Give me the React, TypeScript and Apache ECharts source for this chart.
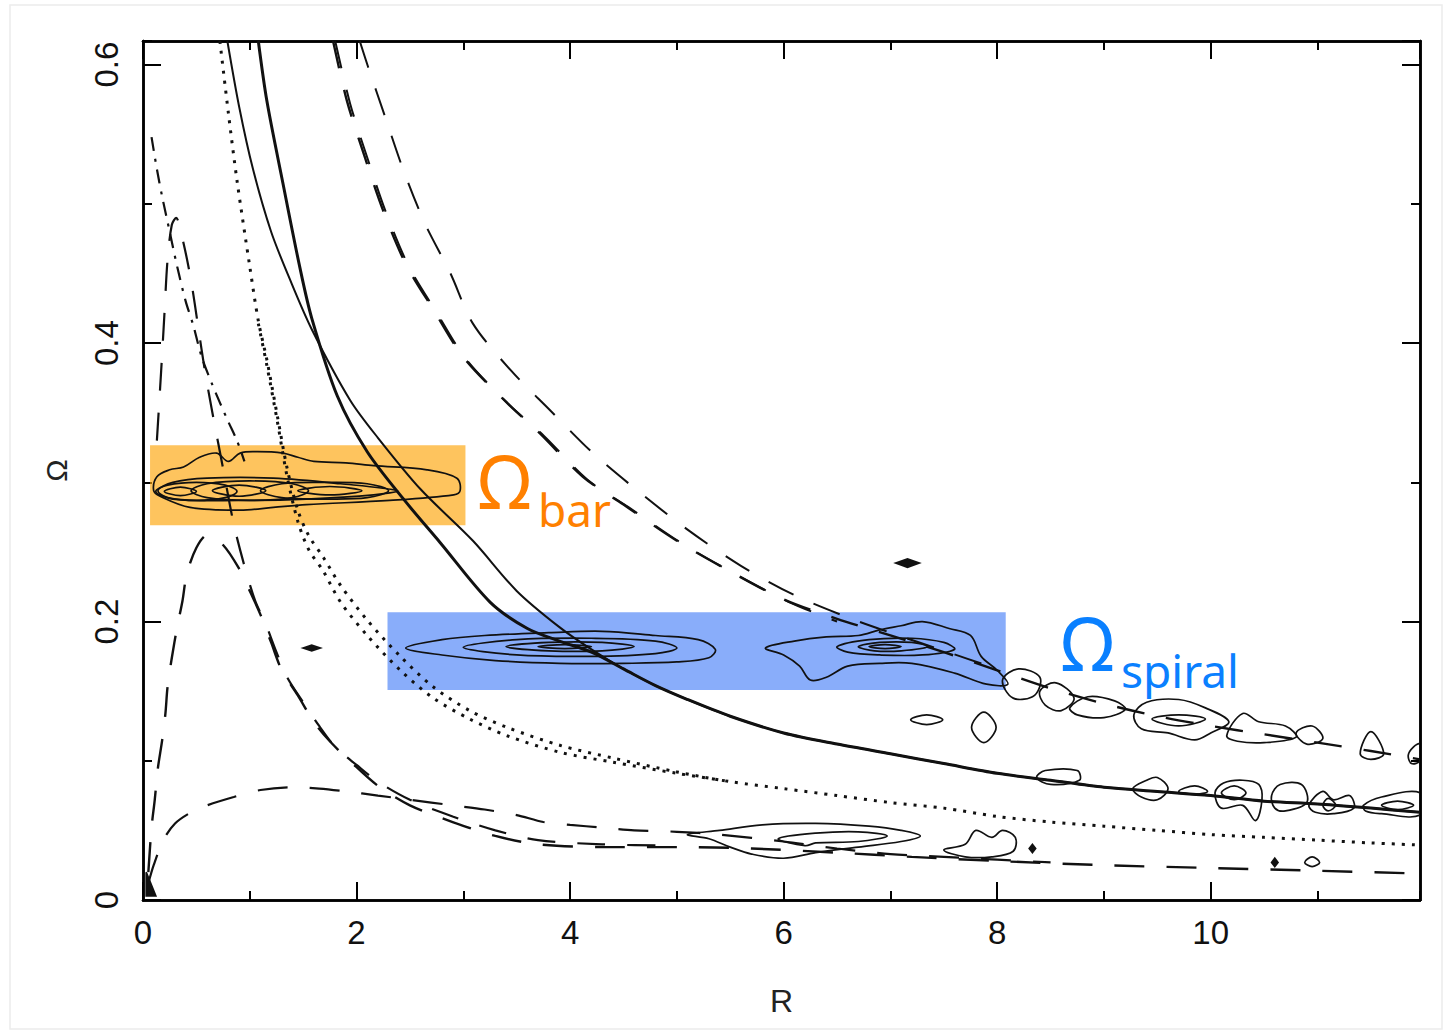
import React, { useEffect, useRef } from "react";
import * as echarts from "echarts";

// ---------- axes ----------
const xTicks = [0, 2, 4, 6, 8, 10];
const yTicks = [0, 0.2, 0.4, 0.6];
const xMax = 11.96;
const yMax = 0.617;

// ---------- Omega curves (solid) ----------
const omegaA = [[0.79,0.617],[0.9,0.57],[1.03,0.525],[1.2,0.48],[1.38,0.445],[1.58,0.41],[1.94,0.359],[2.2,0.332],[2.6,0.295],[3.09,0.258],[3.5,0.222],[3.9,0.196],[4.2,0.18],[4.5,0.166],[4.8,0.154],[5.1,0.144],[5.5,0.132],[6.0,0.12],[6.5,0.112],[7.0,0.105],[7.5,0.098],[8.0,0.091],[8.5,0.086],[9.0,0.081],[9.5,0.078],[10,0.075],[10.5,0.071],[11,0.069],[11.5,0.066],[11.96,0.063]];
const omegaB = [[1.08,0.617],[1.16,0.574],[1.31,0.515],[1.47,0.454],[1.58,0.418],[1.82,0.362],[2.1,0.322],[2.45,0.287],[2.78,0.257],[3.25,0.214],[3.6,0.195],[3.9,0.186],[4.2,0.178],[4.5,0.166],[4.8,0.154],[5.1,0.144],[5.5,0.132],[6.0,0.12],[6.5,0.112],[7.0,0.105],[7.5,0.098],[8.0,0.091],[8.5,0.086],[9.0,0.081],[9.5,0.078],[10,0.075],[10.5,0.071],[11,0.069],[11.5,0.066],[11.96,0.063]];

// ---------- Omega + kappa/2 (dashed, upper) ----------
const omPlusIn = [[1.78,0.617],[1.91,0.574],[2.08,0.533],[2.25,0.495],[2.46,0.457],[2.72,0.424],[3.0,0.39],[3.41,0.357],[3.72,0.335],[4.12,0.304],[4.5,0.284],[5.0,0.258],[5.5,0.236],[6.0,0.216],[6.5,0.202],[7.0,0.19],[7.5,0.178],[8.0,0.165],[8.5,0.152],[9.0,0.141],[9.5,0.132],[10,0.125],[10.5,0.119],[11,0.113],[11.5,0.107],[11.96,0.101]];
const omPlusIn2 = [[1.8,0.617],[1.94,0.572],[2.11,0.531],[2.28,0.493],[2.49,0.455],[2.75,0.422],[3.03,0.388],[3.44,0.355],[3.76,0.333],[4.16,0.302],[4.55,0.282],[5.05,0.256],[5.55,0.234],[6.05,0.214],[6.5,0.2]];
const omPlusOut = [[2.03,0.617],[2.11,0.598],[2.27,0.562],[2.44,0.524],[2.64,0.486],[2.88,0.45],[3.09,0.414],[3.45,0.38],[3.81,0.352],[4.2,0.322],[4.6,0.296],[5.1,0.266],[5.6,0.24],[6.1,0.219],[6.6,0.203],[7.0,0.192],[7.5,0.179],[8.0,0.166]];

// ---------- Omega - kappa/4 (dotted) ----------
const omQuarterA = [[0.72,0.617],[0.8,0.565],[0.88,0.517],[1.0,0.455],[1.08,0.416],[1.16,0.388],[1.26,0.347],[1.35,0.31],[1.45,0.28],[1.55,0.262],[1.69,0.246],[1.85,0.226],[2.1,0.201],[2.41,0.175],[2.72,0.153],[3.06,0.136],[3.41,0.124],[3.91,0.111],[4.4,0.102],[5.0,0.092],[5.5,0.085],[6.0,0.08],[6.5,0.075],[7.0,0.07],[7.5,0.066],[8.0,0.06],[8.5,0.056],[9.0,0.053],[9.5,0.05],[10,0.047],[10.5,0.045],[11,0.043],[11.5,0.041],[11.96,0.0395]];
const omQuarterB = [[1.08,0.414],[1.16,0.384],[1.26,0.343],[1.35,0.304],[1.45,0.272],[1.55,0.252],[1.69,0.236],[1.85,0.214],[2.1,0.19],[2.41,0.165],[2.72,0.145],[3.06,0.13],[3.41,0.118],[3.91,0.106],[4.4,0.099],[5.0,0.091],[5.5,0.085]];

// ---------- Omega - kappa/2 (dashed, lower) ----------
const omMinusPeak = [[0.13,0.33],[0.17,0.38],[0.2,0.42],[0.23,0.46],[0.27,0.485],[0.31,0.49],[0.37,0.475],[0.45,0.445],[0.52,0.41],[0.58,0.38],[0.65,0.35],[0.75,0.31],[0.85,0.27],[0.95,0.24],[1.05,0.215],[1.15,0.198],[1.25,0.178],[1.35,0.16],[1.5,0.142],[1.65,0.125],[1.8,0.11],[2.0,0.097],[2.2,0.085],[2.5,0.072],[2.9,0.06],[3.3,0.05],[3.7,0.043],[4.3,0.04],[5.0,0.039]];
const omMinusLambda = [[0.05,0.02],[0.08,0.052],[0.11,0.072],[0.14,0.095],[0.18,0.115],[0.21,0.134],[0.23,0.153],[0.27,0.174],[0.32,0.196],[0.37,0.215],[0.41,0.234],[0.5,0.253],[0.6,0.262],[0.75,0.255],[0.9,0.238],[1.0,0.222],[1.1,0.205],[1.2,0.185],[1.3,0.165],[1.45,0.147],[1.6,0.128],[1.75,0.114],[1.95,0.099],[2.2,0.082],[2.5,0.068],[2.9,0.056],[3.3,0.046],[3.7,0.04],[4.3,0.038],[5.0,0.038],[5.7,0.037],[6.5,0.034],[7.2,0.031],[8.0,0.028],[9.0,0.025],[10,0.023],[11,0.021],[11.96,0.019]];
const omMinusHump = [[0.05,0.012],[0.1,0.025],[0.19,0.043],[0.3,0.055],[0.45,0.063],[0.6,0.068],[0.85,0.074],[1.1,0.079],[1.4,0.081],[1.65,0.08],[1.9,0.078],[2.2,0.075],[2.5,0.072],[2.9,0.068],[3.2,0.065],[3.5,0.061],[3.75,0.056],[4.0,0.054],[4.3,0.052],[4.6,0.05],[5.0,0.049],[5.4,0.047],[6.0,0.042],[6.5,0.037],[7.0,0.033],[7.5,0.031],[8.0,0.029],[8.5,0.027]];
const omDashDot = [[0.08,0.548],[0.13,0.525],[0.18,0.505],[0.25,0.48],[0.32,0.455],[0.4,0.43],[0.47,0.413],[0.55,0.39],[0.65,0.37],[0.79,0.345],[0.88,0.33],[0.95,0.315]];

// ---------- highlighted bands [Rmin, Rmax, OmegaMin, OmegaMax] ----------
const barBand = [0.066, 3.02, 0.2692, 0.3266];
const spiralBand = [2.29, 8.08, 0.1508, 0.2067];

// ---------- power-spectrum contours ----------
const barContours = [
  [[0.1,0.294],[0.13,0.304],[0.25,0.309],[0.38,0.311],[0.53,0.318],[0.69,0.321],[0.8,0.315],[0.91,0.321],[1.07,0.322],[1.31,0.321],[1.45,0.318],[1.6,0.315],[1.9,0.314],[2.16,0.312],[2.66,0.309],[2.94,0.303],[2.97,0.294],[2.91,0.291],[2.31,0.287],[1.53,0.284],[1.22,0.282],[0.91,0.28],[0.44,0.282],[0.16,0.29]],
  [[0.14,0.294],[0.28,0.3],[0.6,0.303],[1.22,0.303],[1.85,0.299],[2.38,0.294],[2.16,0.291],[1.53,0.288],[0.91,0.287],[0.28,0.288]],
  [[0.12,0.2935],[0.23,0.298],[0.5,0.3],[0.77,0.298],[0.88,0.2935],[0.77,0.289],[0.5,0.287],[0.23,0.289]],
  [[0.2,0.2935],[0.35,0.2965],[0.5,0.2935],[0.35,0.2905]],
  [[0.45,0.294],[0.6,0.299],[1.0,0.301],[1.4,0.299],[1.55,0.294],[1.4,0.289],[1.0,0.287],[0.6,0.289]],
  [[0.65,0.294],[0.9,0.298],[1.15,0.294],[0.9,0.29]],
  [[1.1,0.294],[1.3,0.299],[1.7,0.3],[2.1,0.299],[2.3,0.294],[2.1,0.289],[1.7,0.288],[1.3,0.289]],
  [[1.45,0.294],[1.75,0.297],[2.05,0.294],[1.75,0.291]],
];
const spiralContours = [
  [[2.46,0.181],[2.8,0.187],[3.2,0.19],[3.8,0.192],[4.3,0.193],[4.8,0.19],[5.2,0.187],[5.36,0.18],[5.3,0.174],[5.0,0.171],[4.5,0.17],[3.9,0.17],[3.3,0.172],[2.8,0.176]],
  [[3.0,0.1815],[3.5,0.187],[4.2,0.188],[4.8,0.186],[5.0,0.181],[4.8,0.177],[4.2,0.175],[3.5,0.176]],
  [[3.4,0.182],[3.8,0.185],[4.3,0.185],[4.6,0.182],[4.3,0.179],[3.8,0.179]],
  [[3.7,0.182],[3.95,0.1835],[4.2,0.182],[3.95,0.1805]],
  [[5.83,0.181],[6.1,0.186],[6.4,0.189],[6.7,0.19],[6.9,0.194],[7.1,0.197],[7.3,0.2],[7.55,0.195],[7.75,0.19],[7.85,0.175],[8.0,0.165],[8.1,0.155],[7.9,0.155],[7.6,0.163],[7.2,0.17],[6.9,0.17],[6.6,0.168],[6.4,0.16],[6.25,0.158],[6.15,0.168],[6.0,0.176]],
  [[6.5,0.182],[6.8,0.187],[7.2,0.188],[7.5,0.185],[7.6,0.18],[7.3,0.176],[6.9,0.176],[6.6,0.178]],
  [[6.7,0.182],[6.9,0.185],[7.2,0.185],[7.35,0.182],[7.1,0.179],[6.85,0.179]],
  [[6.8,0.182],[6.95,0.1835],[7.1,0.182],[6.95,0.1805]],
];
const outerContours = [
  [[8.05,0.158],[8.2,0.166],[8.4,0.16],[8.35,0.147],[8.15,0.145]],
  [[8.4,0.15],[8.55,0.156],[8.72,0.145],[8.6,0.136],[8.45,0.14]],
  [[8.68,0.138],[8.85,0.146],[9.1,0.143],[9.2,0.137],[9.0,0.131],[8.75,0.133]],
  [[9.28,0.133],[9.4,0.142],[9.7,0.144],[9.95,0.138],[10.17,0.128],[10.0,0.12],[9.85,0.115],[9.6,0.12],[9.35,0.123]],
  [[9.45,0.13],[9.7,0.133],[9.95,0.13],[9.7,0.125]],
  [[10.15,0.118],[10.3,0.134],[10.45,0.128],[10.7,0.125],[10.8,0.117],[10.5,0.113],[10.25,0.114]],
  [[10.8,0.12],[10.95,0.125],[11.05,0.116],[10.9,0.112]],
  [[11.4,0.105],[11.5,0.121],[11.62,0.105],[11.5,0.101]],
  [[11.85,0.104],[11.9,0.11],[11.96,0.112],[11.96,0.1],[11.88,0.098]],
  [[7.19,0.1295],[7.34,0.133],[7.49,0.1295],[7.34,0.126]],
  [[7.76,0.124],[7.875,0.135],[7.99,0.124],[7.875,0.113]],
  [[8.37,0.088],[8.45,0.093],[8.75,0.093],[8.77,0.086],[8.5,0.083]],
  [[9.27,0.08],[9.4,0.086],[9.5,0.088],[9.6,0.08],[9.5,0.072],[9.35,0.074]],
  [[9.7,0.078],[9.85,0.082],[9.97,0.078],[9.85,0.076]],
  [[10.04,0.077],[10.12,0.084],[10.3,0.086],[10.45,0.083],[10.48,0.072],[10.42,0.057],[10.3,0.068],[10.1,0.066]],
  [[10.1,0.077],[10.22,0.082],[10.33,0.077],[10.22,0.072]],
  [[10.57,0.075],[10.65,0.083],[10.85,0.083],[10.9,0.07],[10.7,0.064],[10.6,0.066]],
  [[10.92,0.068],[11.05,0.078],[11.15,0.072],[11.3,0.075],[11.34,0.066],[11.15,0.062],[10.98,0.063]],
  [[11.05,0.068],[11.1,0.073],[11.17,0.068],[11.1,0.064]],
  [[11.43,0.068],[11.6,0.074],[11.96,0.077],[11.96,0.061],[11.6,0.062],[11.45,0.064]],
  [[11.6,0.068],[11.75,0.071],[11.9,0.068],[11.75,0.065]],
  [[5.1,0.047],[5.4,0.05],[5.8,0.054],[6.3,0.055],[6.8,0.053],[7.1,0.05],[7.28,0.046],[7.1,0.042],[6.7,0.038],[6.3,0.034],[6.0,0.03],[5.7,0.033],[5.5,0.038],[5.3,0.044]],
  [[5.95,0.044],[6.3,0.048],[6.7,0.049],[6.97,0.046],[6.7,0.042],[6.3,0.041],[6.2,0.039]],
  [[7.5,0.036],[7.7,0.04],[7.8,0.05],[7.95,0.045],[8.05,0.05],[8.17,0.045],[8.15,0.035],[7.95,0.031],[7.7,0.031]],
  [[10.88,0.027],[10.95,0.031],[11.02,0.027],[10.95,0.024]],
];
const filledBlobs = [
  [[7.05,0.242],[7.16,0.245],[7.27,0.242],[7.16,0.239]],
  [[1.5,0.181],[1.58,0.183],[1.66,0.181],[1.58,0.179]],
  [[0.03,0.003],[0.03,0.02],[0.12,0.003]],
  [[8.3,0.037],[8.33,0.04],[8.36,0.037],[8.33,0.034]],
  [[10.57,0.027],[10.6,0.03],[10.63,0.027],[10.6,0.024]],
];

const FONT = '"Liberation Sans", Arial, Helvetica, sans-serif';
const LABEL_FONT = '"Noto Sans", "DejaVu Sans", sans-serif';

function lineSeries(data: number[][], type: any, width: number) {
  return {
    type: "line",
    data,
    symbol: "none",
    smooth: 0.3,
    clip: true,
    silent: true,
    z: 2,
    lineStyle: { color: "#111", width, type },
  };
}

function contourSeries(list: number[][][], filled: boolean) {
  return {
    type: "custom",
    coordinateSystem: "cartesian2d",
    silent: true,
    clip: true,
    z: 3,
    data: list.map((c) => [c[0][0], c[0][1]]),
    renderItem: (params: any, api: any) => {
      const pts = list[params.dataIndex].map((p) => api.coord(p));
      return {
        type: "polygon",
        shape: { points: pts, smooth: filled ? 0 : 0.35 },
        style: { fill: filled ? "#111" : "none", stroke: "#111", lineWidth: 1.7 },
      };
    },
  };
}

function axisBase(extra: any) {
  return {
    type: "value",
    splitLine: { show: false },
    axisLine: { show: true, onZero: false, lineStyle: { color: "#000", width: 2.5 } },
    ...extra,
  };
}

export default function App() {
  const ref = useRef<HTMLDivElement>(null);
  useEffect(() => {
    if (!ref.current) return;
    const chart = echarts.init(ref.current, undefined, { renderer: "svg" });
    const majorTick = { show: true, inside: true, length: 18, lineStyle: { color: "#000", width: 2 } };
    const minorTick = { show: true, inside: true, length: 9, lineStyle: { color: "#000", width: 2 } };
    const hidden = { show: false };
    const option: any = {
      animation: false,
      backgroundColor: "#fff",
      grid: { left: 143, top: 41, right: 27, bottom: 131, containLabel: false },
      xAxis: [
        axisBase({
          min: 0, max: xMax, interval: 2, position: "bottom",
          axisTick: majorTick,
          axisLabel: {
            show: true, margin: 16, fontSize: 33, fontFamily: FONT, color: "#111",
            showMaxLabel: false,
            formatter: (v: number) => (xTicks.includes(v) ? String(v) : ""),
          },
          name: "R", nameLocation: "middle", nameGap: 85,
          nameTextStyle: { fontSize: 32, fontFamily: FONT, color: "#222" },
        }),
        axisBase({ min: 0, max: xMax, interval: 1, position: "bottom", axisTick: minorTick, axisLabel: hidden }),
        axisBase({ min: 0, max: xMax, interval: 2, position: "top", axisTick: majorTick, axisLabel: hidden }),
        axisBase({ min: 0, max: xMax, interval: 1, position: "top", axisTick: minorTick, axisLabel: hidden }),
      ],
      yAxis: [
        axisBase({
          min: 0, max: yMax, interval: 0.2, position: "left",
          axisTick: majorTick,
          axisLabel: {
            show: true, margin: 20, rotate: 90, fontSize: 33, fontFamily: FONT, color: "#111",
            showMaxLabel: false,
            formatter: (v: number) => {
              const t = yTicks.find((y) => Math.abs(y - v) < 1e-6);
              return t === undefined ? "" : String(t);
            },
          },
          name: "Ω", nameLocation: "middle", nameGap: 72, nameRotate: 90,
          nameTextStyle: { fontSize: 30, fontFamily: FONT, color: "#222" },
        }),
        axisBase({ min: 0, max: yMax, interval: 0.1, position: "left", axisTick: minorTick, axisLabel: hidden }),
        axisBase({ min: 0, max: yMax, interval: 0.2, position: "right", axisTick: majorTick, axisLabel: hidden }),
        axisBase({ min: 0, max: yMax, interval: 0.1, position: "right", axisTick: minorTick, axisLabel: hidden }),
      ],
      series: [
        lineSeries(omegaA, "solid", 2),
        lineSeries(omegaB, "solid", 3),
        lineSeries(omPlusIn, [28, 22], 2.4),
        lineSeries(omPlusIn2, [28, 22], 2),
        lineSeries(omPlusOut, [28, 22], 2),
        lineSeries(omQuarterA, [3, 7], 3),
        lineSeries(omQuarterB, [3, 7], 3),
        lineSeries(omMinusPeak, [28, 22], 2.2),
        lineSeries(omMinusLambda, [30, 22], 2.4),
        lineSeries(omMinusHump, [30, 22], 2.2),
        lineSeries(omDashDot, [14, 8, 3, 8], 2.2),
        contourSeries(barContours, false),
        contourSeries(spiralContours, false),
        contourSeries(outerContours, false),
        contourSeries(filledBlobs, true),
        {
          type: "line",
          data: [],
          silent: true,
          z: 10,
          markArea: {
            silent: true,
            data: [
              [
                { xAxis: barBand[0], yAxis: barBand[3], itemStyle: { color: "rgba(253,165,10,0.66)" } },
                { xAxis: barBand[1], yAxis: barBand[2] },
              ],
              [
                { xAxis: spiralBand[0], yAxis: spiralBand[3], itemStyle: { color: "rgba(40,105,245,0.55)" } },
                { xAxis: spiralBand[1], yAxis: spiralBand[2] },
              ],
            ],
          },
        },
      ],
      graphic: [
        { type: "rect", shape: { x: 10, y: 5, width: 1432, height: 1024 }, style: { fill: "none", stroke: "#ececec", lineWidth: 1.5 }, silent: true, z: -1 },
        { type: "text", x: 478, y: 480, style: { text: "Ω", fontSize: 74, fontFamily: LABEL_FONT, fill: "#FF8000", align: "left", verticalAlign: "middle" }, z: 20 },
        { type: "text", x: 538, y: 509, style: { text: "bar", fontSize: 46, fontFamily: LABEL_FONT, fill: "#FF8000", align: "left", verticalAlign: "middle" }, z: 20 },
        { type: "text", x: 1061, y: 642, style: { text: "Ω", fontSize: 74, fontFamily: LABEL_FONT, fill: "#0A80FF", align: "left", verticalAlign: "middle" }, z: 20 },
        { type: "text", x: 1121, y: 670, style: { text: "spiral", fontSize: 46, fontFamily: LABEL_FONT, fill: "#0A80FF", align: "left", verticalAlign: "middle" }, z: 20 },
      ],
    };
    chart.setOption(option);
    return () => chart.dispose();
  }, []);
  return (
    <div
      ref={ref}
      style={{ position: "fixed", left: 0, top: 0, width: 1447, height: 1031, background: "#fff" }}
    />
  );
}
